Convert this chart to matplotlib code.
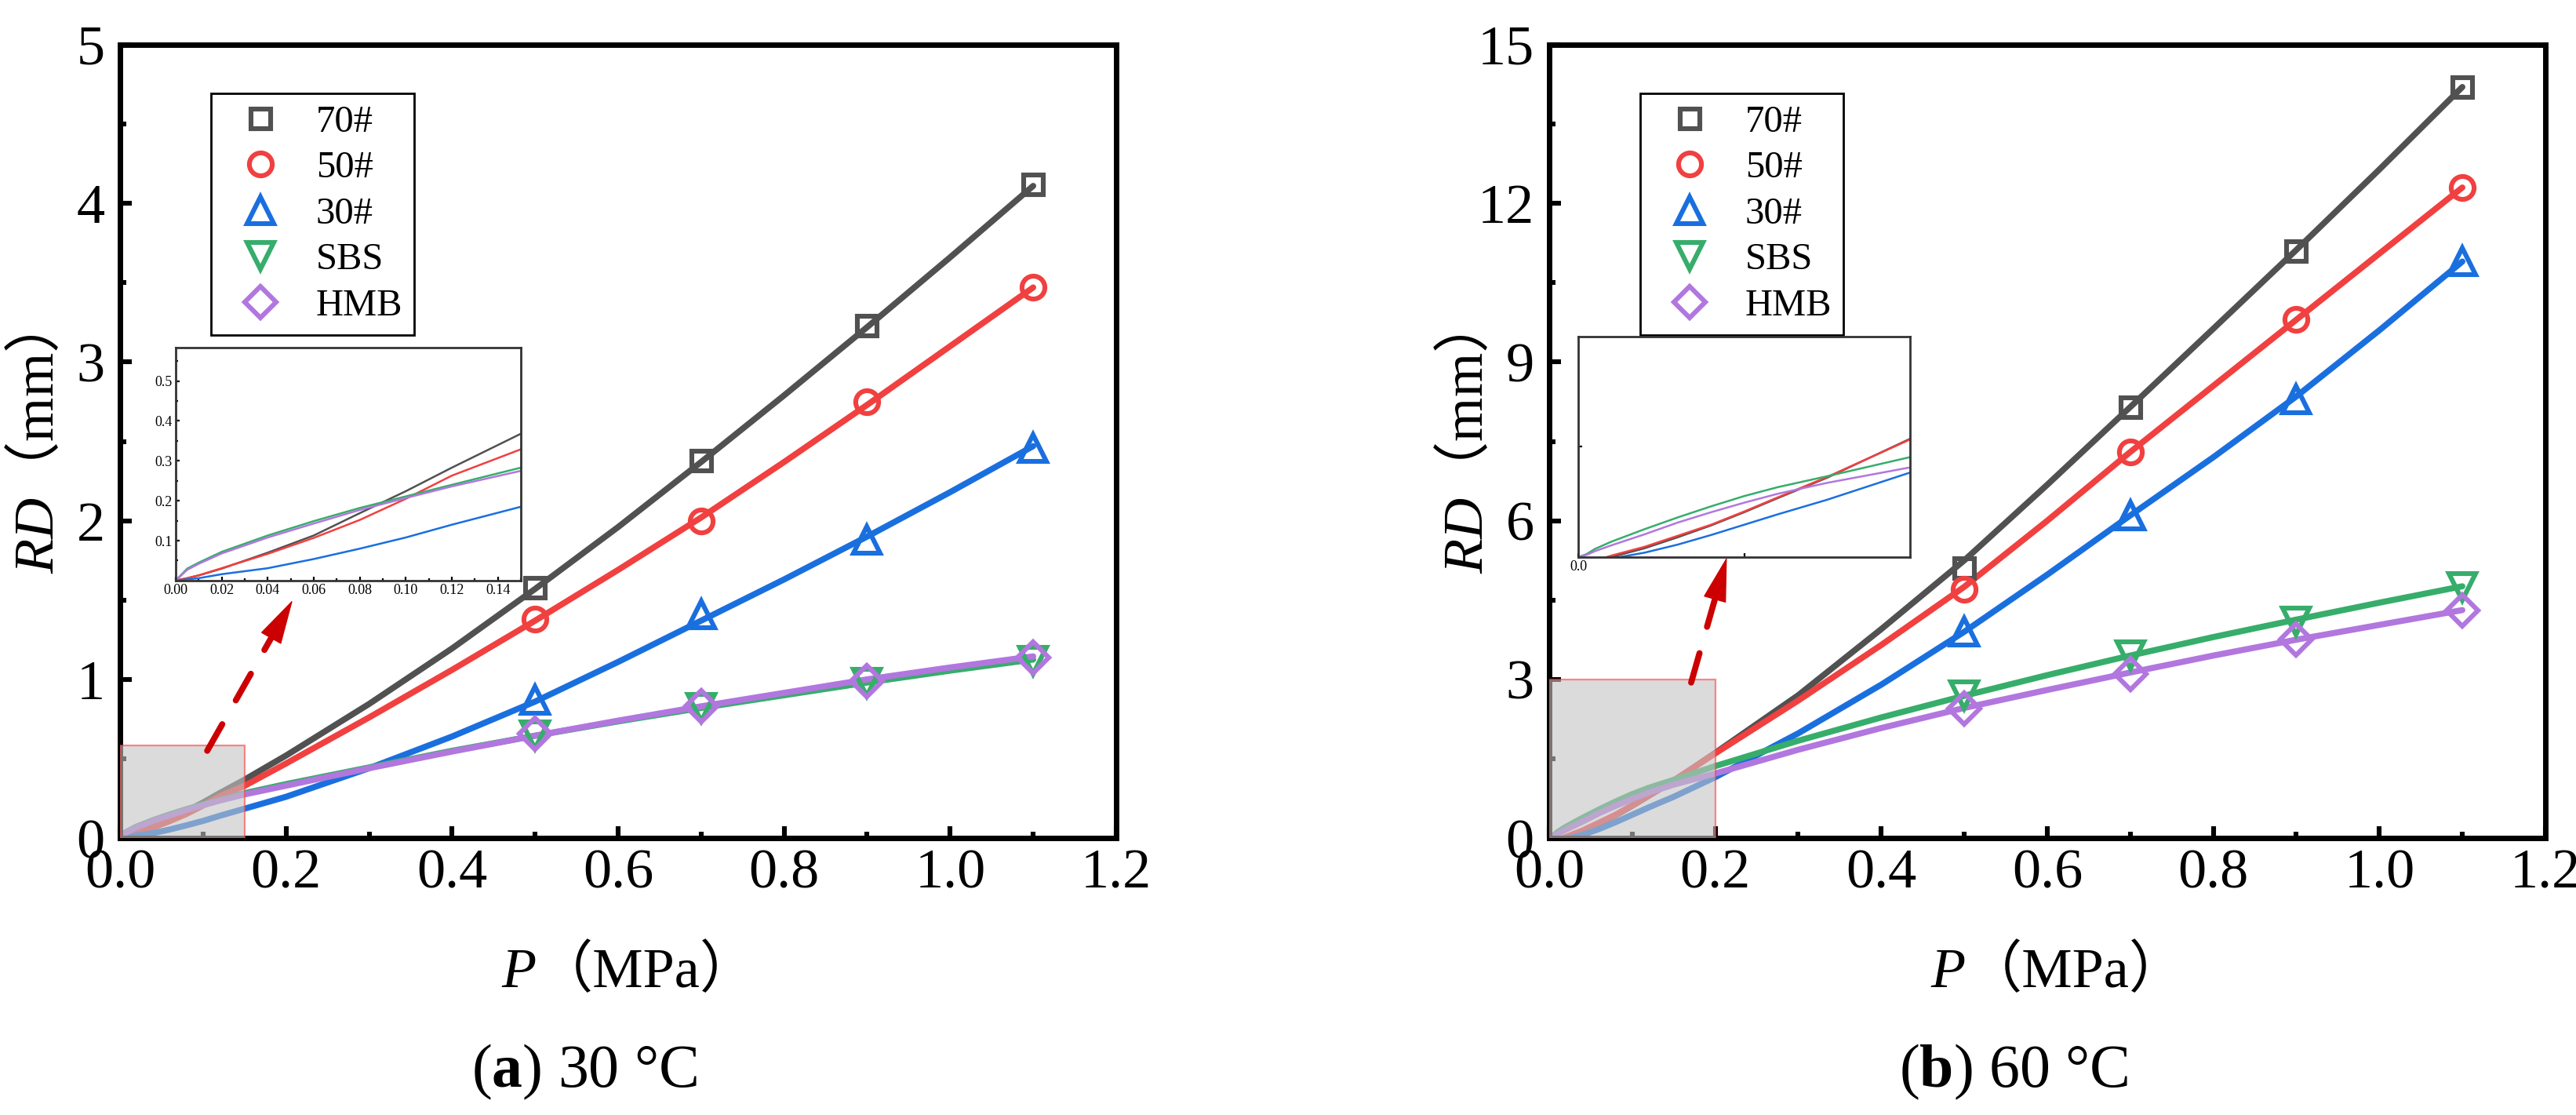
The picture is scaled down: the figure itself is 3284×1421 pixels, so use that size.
import numpy as np
import matplotlib
matplotlib.use('Agg')
import matplotlib.pyplot as plt
from matplotlib.patches import Rectangle
from matplotlib.ticker import MultipleLocator

plt.rcParams['font.family'] = ['Liberation Serif', 'Noto Sans CJK SC']
plt.rcParams['mathtext.fontset'] = 'custom'
plt.rcParams['mathtext.rm'] = 'Liberation Serif'
plt.rcParams['mathtext.it'] = 'Liberation Serif:italic'
plt.rcParams['mathtext.bf'] = 'Liberation Serif:bold'
plt.rcParams['mathtext.sf'] = 'Noto Sans CJK SC'

# series and styling
series = ['70#', '50#', '30#', 'SBS', 'HMB']
colors = ['#515151', '#F14040', '#1A6FDF', '#37AD6B', '#B177DE']
markers = ['s', 'o', '^', 'v', 'D']
marker_sizes = [9, 10.5, 12.5, 12.5, 10]

# measured loads and fitted-curve loads (MPa)
p_test = [0.5, 0.7, 0.9, 1.1]
p_fit = [0, 0.005, 0.01, 0.02, 0.04, 0.06, 0.08, 0.10, 0.12, 0.15,
         0.2, 0.3, 0.4, 0.5, 0.6, 0.7, 0.8, 0.9, 1.0, 1.1]

# 30 °C measured RD (mm)
rd30_70 = [1.58, 2.38, 3.23, 4.12]
rd30_50 = [1.38, 2.00, 2.75, 3.47]
rd30_30 = [0.87, 1.41, 1.88, 2.46]
rd30_sbs = [0.65, 0.82, 0.98, 1.12]
rd30_hmb = [0.66, 0.83, 0.99, 1.14]

# 30 °C fitted curves
fit30_70 = [0, 0.006, 0.013, 0.03, 0.07, 0.113, 0.169, 0.224, 0.283, 0.368,
            0.52, 0.845, 1.195, 1.57, 1.96, 2.37, 2.79, 3.22, 3.66, 4.11]
fit30_50 = [0, 0.006, 0.013, 0.031, 0.067, 0.107, 0.152, 0.205, 0.263, 0.329,
            0.47, 0.76, 1.06, 1.37, 1.69, 2.02, 2.37, 2.73, 3.10, 3.47]
fit30_30 = [0, 0.003, 0.006, 0.016, 0.031, 0.054, 0.08, 0.108, 0.14, 0.185,
            0.26, 0.44, 0.64, 0.86, 1.11, 1.37, 1.63, 1.90, 2.18, 2.47]
fit30_sbs = [0, 0.03, 0.045, 0.072, 0.113, 0.149, 0.182, 0.211, 0.24, 0.283,
             0.34, 0.445, 0.55, 0.645, 0.735, 0.82, 0.90, 0.98, 1.055, 1.125]
fit30_hmb = [0, 0.027, 0.042, 0.068, 0.108, 0.143, 0.177, 0.207, 0.236, 0.275,
             0.33, 0.44, 0.545, 0.645, 0.74, 0.83, 0.915, 1.0, 1.075, 1.145]

# 60 °C measured RD (mm)
rd60_70 = [5.1, 8.15, 11.1, 14.2]
rd60_50 = [4.7, 7.3, 9.8, 12.3]
rd60_30 = [3.9, 6.1, 8.3, 10.9]
rd60_sbs = [2.7, 3.45, 4.1, 4.75]
rd60_hmb = [2.45, 3.1, 3.75, 4.3]

# 60 °C fitted curves
fit60_70 = [-0.12, -0.09, -0.06, 0.0, 0.12, 0.27, 0.43, 0.61, 0.80, 1.08,
            1.61, 2.7, 3.95, 5.25, 6.68, 8.15, 9.63, 11.12, 12.64, 14.2]
fit60_50 = [-0.11, -0.08, -0.05, 0.02, 0.14, 0.29, 0.44, 0.62, 0.81, 1.09,
            1.60, 2.6, 3.65, 4.75, 6.0, 7.3, 8.55, 9.8, 11.05, 12.3]
fit60_30 = [-0.15, -0.12, -0.08, -0.02, 0.06, 0.17, 0.30, 0.44, 0.58, 0.78,
            1.15, 1.98, 2.9, 3.9, 4.98, 6.1, 7.2, 8.35, 9.6, 10.9]
fit60_sbs = [0, 0.04, 0.11, 0.21, 0.38, 0.54, 0.69, 0.83, 0.95, 1.10,
             1.36, 1.84, 2.28, 2.69, 3.08, 3.45, 3.8, 4.13, 4.45, 4.76]
fit60_hmb = [0, 0.03, 0.08, 0.16, 0.31, 0.47, 0.61, 0.74, 0.86, 1.01,
             1.22, 1.67, 2.08, 2.46, 2.8, 3.13, 3.45, 3.75, 4.03, 4.31]

RED = '#CC0000'
FS = 26

fig = plt.figure(figsize=(16.42, 7.105), dpi=200)
ax_a = fig.add_axes([0.0466, 0.2484, 0.3867, 0.7115])
ax_b = fig.add_axes([0.6014, 0.2484, 0.3867, 0.7115])
ins_a = fig.add_axes([0.0682, 0.4793, 0.1340, 0.2090])
ins_b = fig.add_axes([0.6127, 0.5004, 0.1288, 0.1977])


def style_main(ax, ymax, ystep):
    ax.set_xlim(0, 1.2)
    ax.set_ylim(0, ymax)
    ax.xaxis.set_major_locator(MultipleLocator(0.2))
    ax.xaxis.set_minor_locator(MultipleLocator(0.1))
    ax.yaxis.set_major_locator(MultipleLocator(ystep))
    ax.yaxis.set_minor_locator(MultipleLocator(ystep / 2))
    ax.xaxis.set_major_formatter(plt.FuncFormatter(lambda v, _: f'{v:.1f}'))
    ax.yaxis.set_major_formatter(plt.FuncFormatter(lambda v, _: f'{v:.0f}'))
    for s in ax.spines.values():
        s.set_linewidth(2.5)
    ax.tick_params(which='both', direction='in', top=False, right=False, width=2.2)
    ax.tick_params(which='major', length=5.4, labelsize=FS)
    ax.tick_params(axis='x', which='major', pad=5)
    ax.tick_params(axis='y', which='major', pad=7)
    ax.tick_params(which='minor', length=3)


def style_inset(ins):
    for s in ins.spines.values():
        s.set_linewidth(1.0)
        s.set_color('#333333')
    ins.tick_params(which='both', direction='in', top=False, right=False, width=0.8, labelsize=6.5, pad=1.5)
    ins.tick_params(which='major', length=1.8)
    ins.tick_params(which='minor', length=1.0)


def axis_labels(ax):
    tx = ax.text(0.383, -0.188, 'P', transform=ax.transAxes, style='italic',
                 fontsize=FS, ha='left', va='baseline')
    ax.annotate('（MPa）', xy=(1, -0.188), xycoords=(tx, ax.transAxes),
                ha='left', va='baseline', fontsize=FS)
    # rotated label through mathtext: italic RD, CJK full-width brackets
    ax.text(-0.067, 0.333, r'$\mathit{RD}\mathsf{（}\mathrm{mm}\mathsf{）}$',
            transform=ax.transAxes, rotation=90, rotation_mode='anchor',
            ha='left', va='baseline', fontsize=FS)


def red_arrow(ax, tail, tip):
    p0 = ax.transData.transform(tail)
    p1 = ax.transData.transform(tip)
    length = np.hypot(*(p1 - p0)) * 72 / fig.dpi
    head = 19
    ax.annotate('', xy=tip, xytext=tail, annotation_clip=False, zorder=6,
                arrowprops=dict(arrowstyle='-', color=RED, lw=2.8, linestyle=(0, (5, 4.5)),
                                shrinkA=0, shrinkB=head - 2))
    ax.annotate('', xy=tip, xytext=tail, annotation_clip=False, zorder=6,
                arrowprops=dict(arrowstyle='-|>,head_length=1.9,head_width=0.5', mutation_scale=10,
                                color=RED, lw=0.5, shrinkA=length - head, shrinkB=0))


def draw_panel(ax, ins, marks, fits, ymax, ystep, box, caption):
    for name, c, m, ms, y_mark, y_fit in zip(series, colors, markers, marker_sizes, marks, fits):
        ax.plot(p_fit, y_fit, color=c, lw=2.8, zorder=2, solid_capstyle='round')
        ax.plot(p_test, y_mark, ls='none', marker=m, ms=ms, mfc='none', mec=c, mew=2.2,
                label=name, zorder=3)
        ins.plot(p_fit, y_fit, color=c, lw=0.9)
    style_main(ax, ymax, ystep)
    ax.add_patch(Rectangle((0, 0), box[0], box[1], facecolor='#c4c4c4', alpha=0.6,
                           edgecolor='#ff4040', lw=0.8, zorder=4))
    leg = ax.legend(loc='upper left', bbox_to_anchor=(0.0914, 0.9387), borderaxespad=0,
                    fancybox=False, edgecolor='black', framealpha=1, fontsize=17.5,
                    handlelength=2.0, handletextpad=0.45, labelspacing=0.3, borderpad=0.3,
                    numpoints=1)
    leg.get_frame().set_linewidth(1.0)
    axis_labels(ax)
    ax.text(0.466, -0.3135, caption, transform=ax.transAxes, ha='center', va='baseline', fontsize=28)
    style_inset(ins)
    ins.set_xlim(0, box[0])
    ins.set_ylim(0, box[1])


draw_panel(ax_a, ins_a,
           [rd30_70, rd30_50, rd30_30, rd30_sbs, rd30_hmb],
           [fit30_70, fit30_50, fit30_30, fit30_sbs, fit30_hmb],
           5, 1, (0.15, 0.584), r'($\mathbf{a}$) 30 °C')
ins_a.xaxis.set_major_locator(MultipleLocator(0.02))
ins_a.xaxis.set_minor_locator(MultipleLocator(0.01))
ins_a.xaxis.set_major_formatter(plt.FuncFormatter(lambda v, _: f'{v:.2f}'))
ins_a.set_yticks([0.1, 0.2, 0.3, 0.4, 0.5])
ins_a.yaxis.set_minor_locator(MultipleLocator(0.05))
ins_a.yaxis.set_major_formatter(plt.FuncFormatter(lambda v, _: f'{v:.1f}'))

draw_panel(ax_b, ins_b,
           [rd60_70, rd60_50, rd60_30, rd60_sbs, rd60_hmb],
           [fit60_70, fit60_50, fit60_30, fit60_sbs, fit60_hmb],
           15, 3, (0.2, 3.0), r'($\mathbf{b}$) 60 °C')
ins_b.set_xticks([0, 0.1])
ins_b.set_xticklabels(['0.0', ''])
ins_b.set_yticks([1.5])
ins_b.set_yticklabels([])

red_arrow(ax_a, (0.105, 0.55), (0.208, 1.50))
red_arrow(ax_b, (0.171, 2.94), (0.214, 5.31))

fig.savefig('out.png', dpi=200)
